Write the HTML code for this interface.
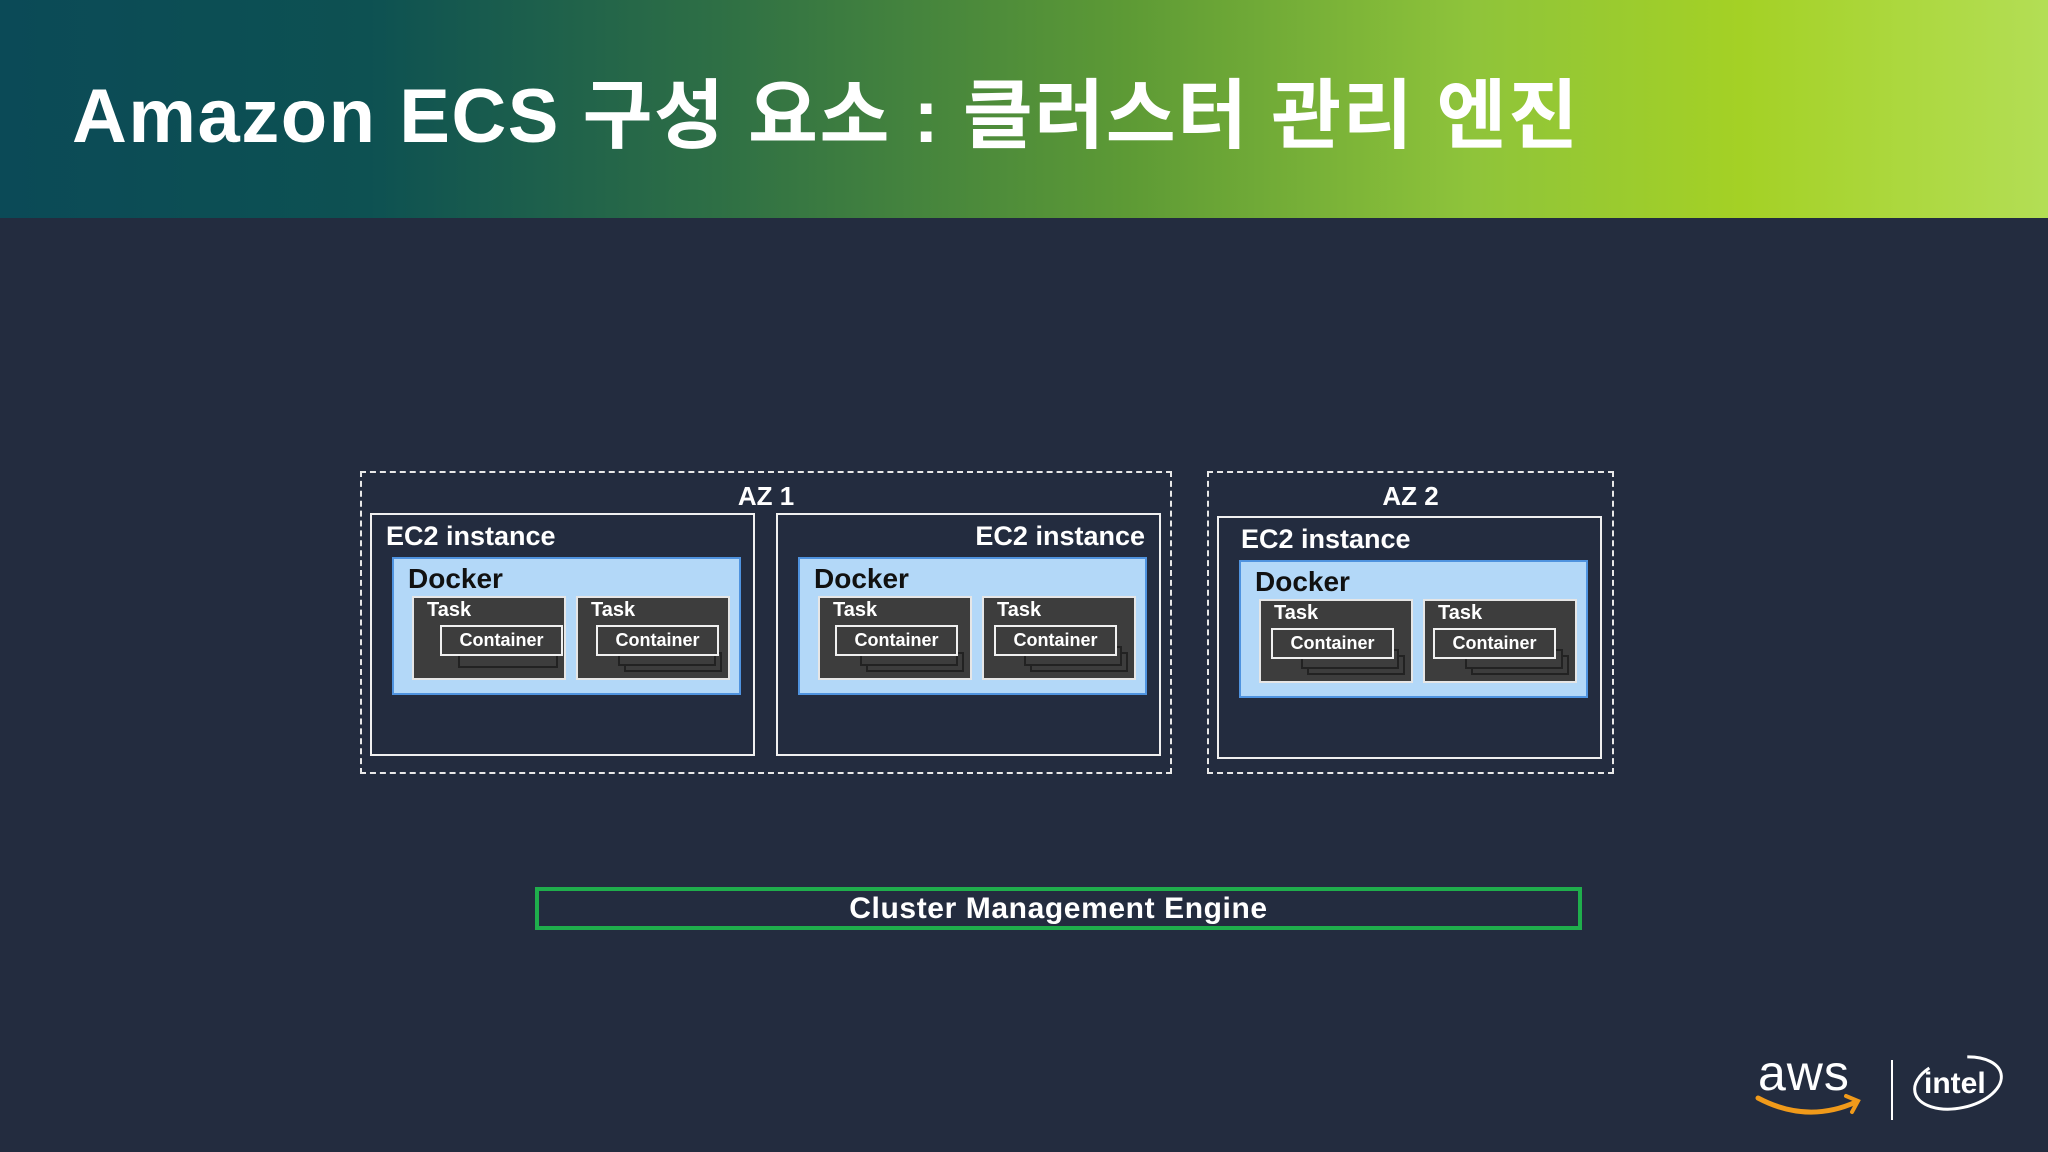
<!DOCTYPE html>
<html><head><meta charset="utf-8">
<style>
*{margin:0;padding:0;box-sizing:border-box}
body{width:2048px;height:1152px;overflow:hidden;background:#232c3f;position:relative;font-family:"Liberation Sans","Noto Sans CJK KR",sans-serif;font-weight:bold;color:#fff}
.abs{position:absolute}
#hdr{left:0;top:0;width:2048px;height:218px;background:linear-gradient(90deg,#0b4a57 0%,#0d5152 18%,#2e6f45 35%,#5d9a35 55%,#8fc43a 72%,#a4d125 85%,#b3de55 100%)}
#title{left:72px;top:54px;font-size:76px;letter-spacing:1.5px;white-space:nowrap}
.az{border:2px dashed #e8e8e8}
.azl{font-size:26px;width:100%;text-align:center;top:8px}
.ec2{border:2px solid #f0f0f0;width:385px;height:243px}
.ec2l{font-size:27px;top:6px;white-space:nowrap}
.dock{left:20px;top:42px;width:349px;height:138px;background:#b3d8f8;border:2px solid #4f93df}
.dl{left:14px;top:4px;font-size:28px;color:#111}
.task{top:37px;width:154px;height:84px;background:#3d3d3d;border:2px solid #e6e6e6}
.tl{left:13px;top:1px;font-size:20px}
.sh{border:2px solid #222;background:#3d3d3d}
.cont{left:26px;top:27px;width:123px;height:31px;border:2px solid #f0f0f0;background:#3d3d3d;font-size:18px;text-align:center;line-height:27px}
</style></head><body>
<div id="hdr" class="abs"></div>
<div id="title" class="abs">Amazon ECS 구성 요소 : 클러스터 관리 엔진</div>

<div class="abs az" style="left:360px;top:471px;width:812px;height:303px"><div class="abs azl">AZ 1</div></div>
<div class="abs az" style="left:1207px;top:471px;width:407px;height:303px"><div class="abs azl">AZ 2</div></div>

<!-- EC2 1 -->
<div class="abs ec2" style="left:370px;top:513px">
 <div class="abs ec2l" style="left:14px">EC2 instance</div>
 <div class="abs dock"><div class="abs dl">Docker</div>
  <div class="abs task" style="left:18px"><div class="abs tl">Task</div>
   <div class="abs sh" style="left:44px;top:50px;width:100px;height:20px"></div>
   <div class="abs cont">Container</div></div>
  <div class="abs task" style="left:182px"><div class="abs tl">Task</div>
   <div class="abs sh" style="left:46px;top:54px;width:98px;height:20px"></div>
   <div class="abs sh" style="left:40px;top:48px;width:98px;height:20px"></div>
   <div class="abs cont" style="left:18px">Container</div></div>
 </div>
</div>

<!-- EC2 2 -->
<div class="abs ec2" style="left:776px;top:513px">
 <div class="abs ec2l" style="right:14px">EC2 instance</div>
 <div class="abs dock"><div class="abs dl">Docker</div>
  <div class="abs task" style="left:18px"><div class="abs tl">Task</div>
   <div class="abs sh" style="left:46px;top:54px;width:98px;height:20px"></div>
   <div class="abs sh" style="left:40px;top:48px;width:98px;height:20px"></div>
   <div class="abs cont" style="left:15px">Container</div></div>
  <div class="abs task" style="left:182px"><div class="abs tl">Task</div>
   <div class="abs sh" style="left:46px;top:54px;width:98px;height:20px"></div>
   <div class="abs sh" style="left:40px;top:48px;width:98px;height:20px"></div>
   <div class="abs cont" style="left:10px">Container</div></div>
 </div>
</div>

<!-- EC2 3 -->
<div class="abs ec2" style="left:1217px;top:516px">
 <div class="abs ec2l" style="left:22px">EC2 instance</div>
 <div class="abs dock"><div class="abs dl">Docker</div>
  <div class="abs task" style="left:18px"><div class="abs tl">Task</div>
   <div class="abs sh" style="left:46px;top:54px;width:98px;height:20px"></div>
   <div class="abs sh" style="left:40px;top:48px;width:98px;height:20px"></div>
   <div class="abs cont" style="left:10px">Container</div></div>
  <div class="abs task" style="left:182px"><div class="abs tl">Task</div>
   <div class="abs sh" style="left:46px;top:54px;width:98px;height:20px"></div>
   <div class="abs sh" style="left:40px;top:48px;width:98px;height:20px"></div>
   <div class="abs cont" style="left:8px">Container</div></div>
 </div>
</div>

<div class="abs" style="left:535px;top:887px;width:1047px;height:43px;border:4px solid #1fae4c;font-size:30px;letter-spacing:0.6px;text-align:center;line-height:35px">Cluster Management Engine</div>

<!-- logos -->
<div class="abs" style="left:1758px;top:1044px;font-size:50px;font-weight:normal;letter-spacing:1px">aws</div>
<svg class="abs" style="left:1752px;top:1090px" width="112" height="36"><path d="M6 8 Q55 34 104 12" stroke="#f09a1a" stroke-width="5" fill="none" stroke-linecap="round"/><path d="M94 6 L106 11 L100 22" stroke="#f09a1a" stroke-width="4" fill="none" stroke-linecap="round"/></svg>
<div class="abs" style="left:1891px;top:1060px;width:2px;height:60px;background:#fff"></div>
<svg class="abs" style="left:1908px;top:1050px" width="100" height="66"><ellipse cx="50" cy="33" rx="44" ry="25" transform="rotate(-12 50 33)" stroke="#fff" stroke-width="3" fill="none" stroke-dasharray="200 40" stroke-dashoffset="60"/><text x="16" y="43" fill="#fff" font-family="Liberation Sans" font-size="30" font-weight="bold">intel</text></svg>
</body></html>
